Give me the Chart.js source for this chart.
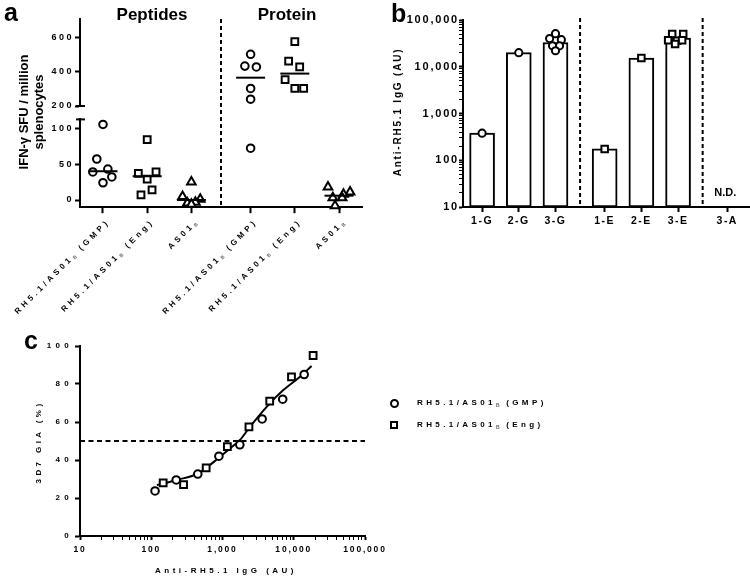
<!DOCTYPE html>
<html lang="en">
<head>
<meta charset="utf-8">
<title>RH5.1/AS01B</title>
<script src="https://cdn.jsdelivr.net/npm/chart.js@4.4.1/dist/chart.umd.min.js"></script>
<style>
  body { margin: 0; background: #fff; }
  #fig { position: relative; width: 750px; height: 578px; overflow: hidden;
         font-family: "Liberation Sans", Arial, sans-serif; font-weight: bold; color: #000; }
  #fig canvas { position: absolute; }
  .txt { position: absolute; white-space: nowrap; line-height: 1; }
  .letra { font-size: 25px; }
  .grupo { font-size: 17px; transform: translateX(-50%); }
  .rot { transform: translate(-50%, -50%) rotate(-90deg); text-align: center; }
  .leg { font-size: 8px; letter-spacing: 3.4px; }
  .leg sub { font-size: 5px; letter-spacing: 1px; color: #666; vertical-align: -2px; }
  .mk { position: absolute; box-sizing: border-box; border: 2px solid #000; background: #fff; }
</style>
</head>
<body>
<div id="fig">
  <canvas id="aUp" width="370" height="112" style="left:0;top:0"></canvas>
  <canvas id="aLow" width="370" height="220" style="left:0;top:110px"></canvas>
  <canvas id="bChart" width="370" height="260" style="left:380px;top:0"></canvas>
  <canvas id="cChart" width="400" height="248" style="left:0;top:330px"></canvas>

  <div class="txt letra" style="left:4px;top:0">a</div>
  <div class="txt letra" style="left:391px;top:1px">b</div>
  <div class="txt letra" style="left:24px;top:328px">c</div>

  <div class="txt grupo" style="left:152px;top:6px">Peptides</div>
  <div class="txt grupo" style="left:287px;top:6px">Protein</div>

  <div class="txt rot" style="left:31px;top:112px;font-size:13px;line-height:15px">IFN-γ SFU / million<br>splenocytes</div>
  <div class="txt rot" style="left:398px;top:112px;font-size:10px;letter-spacing:1.8px">Anti-RH5.1 IgG (AU)</div>
  <div class="txt rot" style="left:39px;top:442px;font-size:8px;letter-spacing:3.4px">3D7 GIA (%)</div>
  <div class="txt" style="left:226px;top:567px;font-size:8px;letter-spacing:3.5px;transform:translateX(-50%)">Anti-RH5.1 IgG (AU)</div>
</div>

<script>
// ---- painel a: ELISpot ----
const aCategorias = [
  ["RH5.1/AS01", "B", " (GMP)"],
  ["RH5.1/AS01", "B", " (Eng)"],
  ["AS01", "B", ""],
  ["RH5.1/AS01", "B", " (GMP)"],
  ["RH5.1/AS01", "B", " (Eng)"],
  ["AS01", "B", ""],
];
const aGrupoDe = [0, 0, 0, 1, 1, 1];
const aTipo = ["GMP", "Eng", "AS01", "GMP", "Eng", "AS01"];
const aValores = [
  [105, 57, 39, 43, 32, 24],
  [84, 37, 39, 29, 14, 7],
  [25, 5, 1, -4, -3, -6],
  [503, 434, 429, 303, 240, 72],
  [577, 463, 429, 354, 303, 303],
  [18, 11, 8, 3, 3, -8],
];
// deslocamento horizontal de cada ponto (em unidades de categoria)
const aJitter = [
  [0, -0.14, -0.23, 0.11, 0.2, 0],
  [0, -0.2, 0.2, 0, 0.11, -0.14],
  [0, -0.2, 0.2, -0.09, 0.09, 0],
  [0, -0.13, 0.13, 0, 0, 0],
  [0, -0.14, 0.11, -0.22, 0, 0.2],
  [-0.25, 0.25, 0.1, -0.14, 0.07, -0.09],
];
const aMedianas = [40, 33, 0, 366, 390, 6];
const aTicksSup = [200, 400, 600];
const aTicksInf = [0, 50, 100];
const aCorte = 150; // valores acima vao para o segmento de cima

// ---- painel b: IgG ----
const bCategorias = ["1-G", "2-G", "3-G", "1-E", "2-E", "3-E", "3-A"];
const bGrupoDe = [0, 0, 0, 1, 1, 1, 2];
const bTipo = ["GMP", "GMP", "GMP", "Eng", "Eng", "Eng", null];
const bMedias = [380, 20000, 33000, 175, 15300, 41000, null];
const bValores = [
  [380],
  [20000],
  [51000, 40000, 38000, 28000, 28000, 22000],
  [175],
  [15300],
  [50000, 50000, 37000, 36000, 37000, 30600],
  [],
];
const bJitter = [
  [0],
  [0],
  [0, -0.16, 0.16, -0.08, 0.11, 0],
  [0],
  [0],
  [-0.16, 0.14, -0.27, -0.03, 0.11, -0.08],
  [],
];
const bTicksY = [10, 100, 1000, 10000, 100000];
const bSemDado = "N.D.";

// ---- painel c: GIA x IgG ----
const cGmpX = [113, 224, 450, 890, 1750, 3600, 7000, 14000];
const cGmpY = [23.7, 29.5, 32.6, 42, 48, 61.6, 72, 85];
const cEngX = [147, 284, 590, 1170, 2350, 4600, 9300, 18700];
const cEngY = [28, 27, 35.8, 47, 57.4, 71, 83.7, 95];
const cAjusteX = [120, 228, 457, 871, 1274, 1758, 2432, 4170, 7130, 12250, 17800];
const cAjusteY = [26.8, 29.5, 33, 40.9, 46.1, 50.5, 57.5, 68, 76.8, 83.8, 89.5];
const cTicksX = [10, 100, 1000, 10000, 100000];
const cTicksY = [0, 20, 40, 60, 80, 100];
const cLimiar = 50;
const cLegenda = [
  ["RH5.1/AS01", "B", " (GMP)"],
  ["RH5.1/AS01", "B", " (Eng)"],
];

// ---- estilo ----
const FONT = '"Liberation Sans", Arial, sans-serif';
Chart.defaults.font.family = FONT;
Chart.defaults.font.weight = "bold";
Chart.defaults.color = "#000";
Chart.defaults.animation = false;
Chart.defaults.responsive = false;
Chart.defaults.events = [];
Chart.defaults.layout.autoPadding = false;
Chart.defaults.plugins.legend.display = false;
Chart.defaults.plugins.tooltip.enabled = false;

const ESTILO = {
  GMP: { pointStyle: "circle", pointRadius: 3.8 },
  Eng: { pointStyle: "rect", pointRadius: 4.8 },
  AS01: { pointStyle: "triangle", pointRadius: 5 },
};
const SALTO = 0.34; // espaco extra entre grupos
const posicao = (grupoDe) => grupoDe.map((g, i) => i + g * SALTO);
const aPos = posicao(aGrupoDe);
const bPos = posicao(bGrupoDe);

function fronteiras(pos, grupoDe) {
  const out = [];
  for (let i = 1; i < pos.length; i++) {
    if (grupoDe[i] !== grupoDe[i - 1]) out.push((pos[i] + pos[i - 1]) / 2);
  }
  return out;
}

function ticksLog(min, max) {
  const out = [];
  for (let d = min; d < max; d *= 10) {
    for (let k = 1; k < 10; k++) out.push(d * k);
  }
  out.push(max);
  return out;
}

// tamanho fixo dos eixos, sem folga extra dos rotulos
const alturaX = (h) => (s) => { s.height = h; s.paddingLeft = 0; s.paddingRight = 0; };
const larguraY = (w) => (s) => { s.width = w; s.paddingTop = 0; s.paddingBottom = 0; };

// espacamento entre letras nos rotulos dos eixos
const spacing = {
  id: "spacing",
  afterLayout(chart, args, opts) {
    for (const id of Object.keys(opts)) {
      const s = chart.scales[id];
      if (!s || s._spaced) continue;
      const orig = s.drawLabels.bind(s);
      s.drawLabels = (area) => {
        chart.ctx.letterSpacing = opts[id] + "px";
        orig(area);
        chart.ctx.letterSpacing = "0px";
      };
      s._spaced = true;
    }
  },
};

function tracejado(ctx, x0, y0, x1, y1, dash) {
  ctx.save();
  ctx.strokeStyle = "#000";
  ctx.lineWidth = 2;
  ctx.setLineDash(dash);
  ctx.beginPath();
  ctx.moveTo(x0, y0);
  ctx.lineTo(x1, y1);
  ctx.stroke();
  ctx.restore();
}

function eixoY(ticks, largura, fonte, pad) {
  return {
    afterBuildTicks: (s) => { s.ticks = ticks.map((v) => ({ value: v })); },
    afterFit: larguraY(largura),
    grid: { drawOnChartArea: false, tickLength: 5, tickWidth: 2, tickColor: "#000" },
    border: { color: "#000", width: 2 },
    ticks: { color: "#000", font: { size: fonte, weight: "bold" }, padding: pad },
  };
}

// ---- painel a ----
function dadosA(filtro) {
  const ds = [];
  const med = [];
  aMedianas.forEach((m, c) => { if (filtro(m)) med.push({ x: aPos[c], y: m }); });
  ds.push({ data: med, pointStyle: "line", pointRadius: 14.5, borderColor: "#000", borderWidth: 2, clip: false });
  aValores.forEach((vals, c) => {
    const pts = [];
    vals.forEach((v, i) => { if (filtro(v)) pts.push({ x: aPos[c] + aJitter[c][i], y: v }); });
    ds.push({
      data: pts, ...ESTILO[aTipo[c]],
      borderColor: "#000", backgroundColor: "#fff", borderWidth: 2, clip: false,
    });
  });
  return ds;
}

const aEixoX = { type: "linear", min: -0.52, max: 5.86 };

const divisoriaA = {
  id: "divisoriaA",
  afterDraw(chart, args, opts) {
    const { ctx, chartArea, scales: { x } } = chart;
    fronteiras(aPos, aGrupoDe).forEach((v) => {
      const px = x.getPixelForValue(v);
      const y0 = opts.cima ? chartArea.top : 0;
      const y1 = opts.cima ? chart.height : chartArea.bottom;
      tracejado(ctx, px, y0, px, y1, [4, 3]);
    });
    // marca de quebra do eixo
    ctx.save();
    ctx.strokeStyle = "#000";
    ctx.lineWidth = 2;
    ctx.beginPath();
    const yq = opts.cima ? chartArea.bottom : chartArea.top;
    ctx.moveTo(chartArea.left - 4, yq);
    ctx.lineTo(chartArea.left + 5, yq);
    ctx.stroke();
    ctx.restore();
  },
};

const rotulosA = {
  id: "rotulosA",
  afterDraw(chart) {
    const { ctx, chartArea, scales: { x } } = chart;
    aCategorias.forEach(([main, sub, tail], i) => {
      const px = x.getPixelForValue(aPos[i]);
      ctx.save();
      ctx.translate(px + 5, chartArea.bottom + 14);
      ctx.rotate(-Math.PI / 4);
      ctx.textBaseline = "middle";
      ctx.textAlign = "left";
      ctx.font = "bold 8px " + FONT;
      ctx.letterSpacing = "3.4px";
      const w1 = ctx.measureText(main).width;
      const w3 = ctx.measureText(tail).width;
      ctx.font = "bold 5px " + FONT;
      ctx.letterSpacing = "1px";
      const w2 = ctx.measureText(sub).width;
      let cx = -(w1 + w2 + w3);
      ctx.font = "bold 8px " + FONT;
      ctx.letterSpacing = "3.4px";
      ctx.fillStyle = "#000";
      ctx.fillText(main, cx, 0);
      cx += w1;
      ctx.font = "bold 5px " + FONT;
      ctx.letterSpacing = "1px";
      ctx.fillStyle = "#666";
      ctx.fillText(sub, cx, 2.5);
      cx += w2 + 1;
      ctx.font = "bold 8px " + FONT;
      ctx.letterSpacing = "3.4px";
      ctx.fillStyle = "#000";
      ctx.fillText(tail, cx, 0);
      ctx.restore();
    });
  },
};

new Chart(document.getElementById("aUp"), {
  type: "scatter",
  data: { datasets: dadosA((v) => v >= aCorte) },
  options: {
    layout: { padding: { left: 0, right: 8, top: 19, bottom: 6 } },
    scales: {
      x: { ...aEixoX, display: false },
      y: { min: 200, max: 710, ...eixoY(aTicksSup, 80, 9, 1) },
    },
    plugins: { spacing: { y: 2.5 }, divisoriaA: { cima: true } },
  },
  plugins: [spacing, divisoriaA],
});

new Chart(document.getElementById("aLow"), {
  type: "scatter",
  data: { datasets: dadosA((v) => v < aCorte) },
  options: {
    layout: { padding: { left: 0, right: 8, top: 9.4, bottom: 0 } },
    scales: {
      x: {
        ...aEixoX,
        afterBuildTicks: (s) => { s.ticks = aPos.map((v) => ({ value: v })); },
        afterFit: alturaX(122.8),
        ticks: { display: false },
        grid: { drawOnChartArea: false, tickLength: 6, tickWidth: 2, tickColor: "#000" },
        border: { color: "#000", width: 2 },
      },
      y: { min: -10, max: 112, ...eixoY(aTicksInf, 80, 9, 1) },
    },
    plugins: { spacing: { y: 2.5 }, divisoriaA: { cima: false } },
  },
  plugins: [spacing, divisoriaA, rotulosA],
});

// ---- painel b ----
const bPontos = bValores.map((vals, c) => ({
  type: "scatter",
  order: 0,
  data: vals.map((v, i) => ({ x: bPos[c] + bJitter[c][i], y: v })),
  ...(bTipo[c] ? ESTILO[bTipo[c]] : {}),
  pointRadius: bTipo[c] === "Eng" ? 4.6 : 3.6,
  borderColor: "#000",
  backgroundColor: "#fff",
  borderWidth: 2,
  clip: false,
}));

const extrasB = {
  id: "extrasB",
  afterDraw(chart) {
    const { ctx, chartArea, scales: { x } } = chart;
    fronteiras(bPos, bGrupoDe).forEach((v) => {
      const px = x.getPixelForValue(v);
      tracejado(ctx, px, chartArea.top - 2, px, chartArea.bottom, [4, 3]);
    });
    ctx.save();
    ctx.font = "bold 11px " + FONT;
    ctx.fillStyle = "#000";
    ctx.textAlign = "center";
    ctx.textBaseline = "middle";
    bMedias.forEach((m, i) => {
      if (m === null) ctx.fillText(bSemDado, x.getPixelForValue(bPos[i]) - 2, chartArea.bottom - 14);
    });
    ctx.restore();
  },
};

new Chart(document.getElementById("bChart"), {
  type: "bar",
  data: {
    datasets: [
      ...bPontos,
      {
        type: "bar",
        order: 1,
        data: bMedias.map((m, i) => (m === null ? null : { x: bPos[i], y: m })).filter(Boolean),
        backgroundColor: "#fff",
        borderColor: "#000",
        borderWidth: 2,
        borderSkipped: false,
        barThickness: 25,
      },
    ],
  },
  options: {
    layout: { padding: { left: 0, right: 0, top: 20, bottom: 0 } },
    scales: {
      x: {
        type: "linear",
        min: -0.52,
        max: 7.3,
        offset: false,
        afterBuildTicks: (s) => { s.ticks = bPos.map((v) => ({ value: v })); },
        afterFit: alturaX(53),
        ticks: { autoSkip: false, maxRotation: 0, callback: (v, i) => bCategorias[i], font: { size: 10.5 }, padding: 3 },
        grid: { offset: false, drawOnChartArea: false, tickLength: 5, tickWidth: 2, tickColor: "#000" },
        border: { color: "#000", width: 2 },
      },
      y: {
        type: "logarithmic",
        min: 10,
        max: 100000,
        afterBuildTicks: (s) => { s.ticks = ticksLog(10, 100000).map((v) => ({ value: v })); },
        afterFit: larguraY(83),
        ticks: {
          autoSkip: false,
          callback: (v) => (bTicksY.includes(v) ? v.toLocaleString("en-US") : ""),
          font: { size: 11 },
          padding: 0,
        },
        grid: {
          drawOnChartArea: false,
          tickLength: 4,
          tickColor: "#000",
          tickWidth: (c) => (bTicksY.includes(c.tick.value) ? 2 : 1),
        },
        border: { color: "#000", width: 2 },
      },
    },
    plugins: { spacing: { x: 1.5, y: 1.8 } },
  },
  plugins: [spacing, extrasB],
});

// ---- painel c ----
const limiarC = {
  id: "limiarC",
  beforeDatasetsDraw(chart) {
    const { ctx, chartArea, scales: { y } } = chart;
    const py = y.getPixelForValue(cLimiar);
    tracejado(ctx, chartArea.left, py, chartArea.right, py, [5, 3.5]);
  },
};

new Chart(document.getElementById("cChart"), {
  type: "scatter",
  data: {
    datasets: [
      {
        data: cGmpX.map((x, i) => ({ x, y: cGmpY[i] })),
        ...ESTILO.GMP,
        borderColor: "#000", backgroundColor: "#fff", borderWidth: 2,
      },
      {
        data: cEngX.map((x, i) => ({ x, y: cEngY[i] })),
        ...ESTILO.Eng,
        borderColor: "#000", backgroundColor: "#fff", borderWidth: 2,
      },
      {
        data: cAjusteX.map((x, i) => ({ x, y: cAjusteY[i] })),
        showLine: true,
        pointRadius: 0,
        borderColor: "#000",
        borderWidth: 2,
        cubicInterpolationMode: "monotone",
      },
    ],
  },
  options: {
    layout: { padding: { left: 0, right: 35, top: 16, bottom: 0 } },
    scales: {
      x: {
        type: "logarithmic",
        min: 10,
        max: 100000,
        afterBuildTicks: (s) => { s.ticks = ticksLog(10, 100000).map((v) => ({ value: v })); },
        afterFit: alturaX(42),
        ticks: {
          autoSkip: false,
          maxRotation: 0,
          callback: (v) => (cTicksX.includes(v) ? v.toLocaleString("en-US") : ""),
          font: { size: 8.5 },
          padding: 5,
        },
        grid: {
          drawOnChartArea: false,
          tickLength: 4,
          tickColor: "#000",
          tickWidth: (c) => (cTicksX.includes(c.tick.value) ? 2 : 1),
        },
        border: { color: "#000", width: 2 },
      },
      y: { min: 0, max: 100, ...eixoY(cTicksY, 80, 8, 2) },
    },
    plugins: { spacing: { x: 1.8, y: 4.3 } },
  },
  plugins: [spacing, limiarC],
});

// ---- legenda do painel c ----
function montarLegenda() {
  const fig = document.getElementById("fig");
  cLegenda.forEach(([main, sub, tail], i) => {
    const cy = 403 + i * 22;
    const mk = document.createElement("div");
    mk.className = "mk";
    const lado = i === 0 ? 9 : 8;
    mk.style.cssText = `left:${394 - lado / 2}px;top:${cy - lado / 2}px;width:${lado}px;height:${lado}px;` +
      (i === 0 ? "border-radius:50%;" : "");
    fig.appendChild(mk);
    const t = document.createElement("div");
    t.className = "txt leg";
    t.style.left = "417px";
    t.style.top = cy - 4 + "px";
    t.innerHTML = `${main}<sub>${sub}</sub>${tail}`;
    fig.appendChild(t);
  });
}

montarLegenda();
</script>
</body>
</html>
